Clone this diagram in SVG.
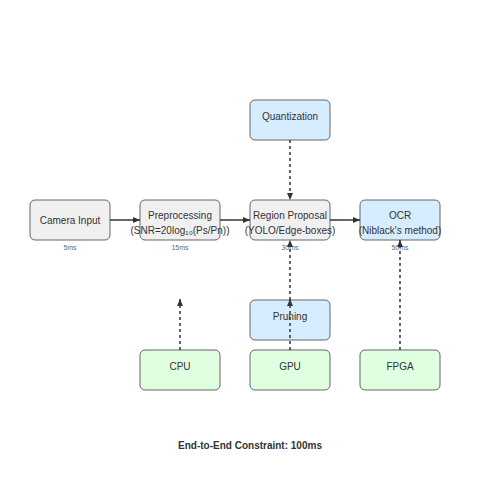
<svg xmlns="http://www.w3.org/2000/svg" width="500" height="500" viewBox="0 0 500 500">
<style>
.box{stroke:#666;stroke-width:1;}
.gray{fill:#f0f0f0;}
.blue{fill:#d6ecff;}
.green{fill:#e0ffe0;}
.t{font-family:"Liberation Sans",Arial,sans-serif;font-size:10px;fill:#333;text-anchor:middle;}
.lat{font-family:"Liberation Sans",Arial,sans-serif;font-size:7px;fill:#666;text-anchor:middle;}
.solid{stroke:#333;stroke-width:1.5;fill:none;}
.dash{stroke:#333;stroke-width:1.5;fill:none;stroke-dasharray:3,3;}
.title{font-family:"Liberation Sans",Arial,sans-serif;font-size:10px;font-weight:bold;fill:#333;text-anchor:middle;}
</style>
<defs>
<marker id="arr" markerWidth="8" markerHeight="8" refX="7" refY="4" orient="auto" markerUnits="userSpaceOnUse">
<path d="M0,1 L7,4 L0,7 Z" fill="#333"/>
</marker>
</defs>
<rect width="500" height="500" fill="#fff"/>
<g id="camera"><rect class="box gray" x="30" y="200" width="80" height="40" rx="5"/><text class="t" x="70" y="224">Camera Input</text><text class="lat" x="70" y="250">5ms</text></g>
<g id="preprocessing"><rect class="box gray" x="140" y="200" width="80" height="40" rx="5"/><text class="t" x="180" y="219">Preprocessing</text><text class="t" x="180" y="234">(SNR=20log₁₀(Ps/Pn))</text><text class="lat" x="180" y="250">15ms</text></g>
<g id="region"><rect class="box gray" x="250" y="200" width="80" height="40" rx="5"/><text class="t" x="290" y="219">Region Proposal</text><text class="t" x="290" y="234">(YOLO/Edge-boxes)</text><text class="lat" x="290" y="250">30ms</text></g>
<g id="ocr"><rect class="box blue" x="360" y="200" width="80" height="40" rx="5"/><text class="t" x="400" y="219">OCR</text><text class="t" x="400" y="234">(Niblack's method)</text><text class="lat" x="400" y="250">50ms</text></g>
<g id="quantization"><rect class="box blue" x="250" y="100" width="80" height="40" rx="5"/><text class="t" x="290" y="120">Quantization</text></g>
<g id="pruning"><rect class="box blue" x="250" y="300" width="80" height="40" rx="5"/><text class="t" x="290" y="320">Pruning</text></g>
<g id="cpu"><rect class="box green" x="140" y="350" width="80" height="40" rx="5"/><text class="t" x="180" y="370">CPU</text></g>
<g id="gpu"><rect class="box green" x="250" y="350" width="80" height="40" rx="5"/><text class="t" x="290" y="370">GPU</text></g>
<g id="fpga"><rect class="box green" x="360" y="350" width="80" height="40" rx="5"/><text class="t" x="400" y="370">FPGA</text></g>
<g id="connectors">
<line class="solid" x1="110" y1="220" x2="140" y2="220" marker-end="url(#arr)"/>
<line class="solid" x1="220" y1="220" x2="250" y2="220" marker-end="url(#arr)"/>
<line class="solid" x1="330" y1="220" x2="360" y2="220" marker-end="url(#arr)"/>
<line class="dash" x1="290" y1="140" x2="290" y2="200" marker-end="url(#arr)"/>
<line class="dash" x1="290" y1="300" x2="290" y2="240" marker-end="url(#arr)"/>
<line class="dash" x1="180" y1="350" x2="180" y2="299" marker-end="url(#arr)"/>
<line class="dash" x1="290" y1="350" x2="290" y2="299" marker-end="url(#arr)"/>
<line class="dash" x1="400" y1="350" x2="400" y2="240" marker-end="url(#arr)"/>
</g>
<text class="title" x="250" y="449">End-to-End Constraint: 100ms</text>
</svg>
